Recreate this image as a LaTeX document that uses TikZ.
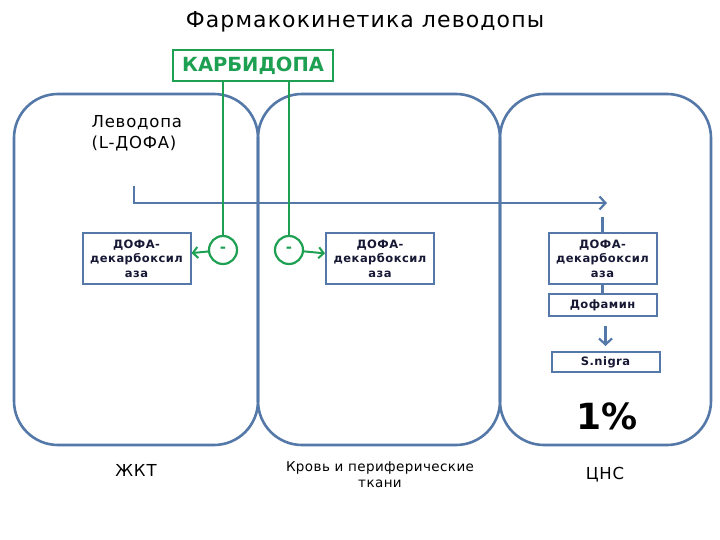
\documentclass[tikz,border=0pt]{standalone}
\usepackage{fontspec}
\setmainfont{DejaVu Sans}
\usetikzlibrary{arrows.meta,positioning}
\definecolor{zblue}{RGB}{84,120,168}
\definecolor{cgreen}{RGB}{30,160,82}
\definecolor{ink}{RGB}{22,24,52}

\begin{document}
\begin{tikzpicture}[x=1pt,y=-1pt, node distance=8pt,
    zone/.style={draw=zblue, line width=2.6pt, rounded corners=44pt, minimum height=351pt, inner sep=0pt},
    enz/.style={draw=zblue, line width=2pt, fill=white, text=ink, align=center, minimum width=108pt,
      font=\fontsize{11.5}{14.5}\selectfont\bfseries\addfontfeatures{LetterSpace=4}},
    inh/.style={circle, draw=cgreen, line width=2.2pt, minimum size=28pt, inner sep=0pt, text=cgreen,
      font=\fontsize{15}{15}\selectfont\bfseries},
    ar/.style={draw=zblue, line width=2.6pt, -{Straight Barb[length=6pt,width=13pt,line width=2.2pt]}},
    gar/.style={draw=cgreen, line width=2pt, -{Straight Barb[length=5pt,width=11pt,line width=2pt]}},
    lbl/.style={font=\fontsize{16.5}{21}\selectfont\addfontfeatures{LetterSpace=5}}]
  \useasboundingbox (0,0) rectangle (720,540);

  % compartments
  \node[zone, minimum width=244pt] (gut) at (136,269.5) {};
  \node[zone, minimum width=242pt] (blood) at (379,269.5) {};
  \node[zone, minimum width=211pt] (cns) at (605.5,269.5) {};

  \node[font=\fontsize{22}{22}\selectfont\addfontfeatures{LetterSpace=5}] (title) at (365,22) {Фармакокинетика леводопы};
  \node[draw=cgreen, line width=2.2pt, text=cgreen, minimum width=160pt, minimum height=31pt, inner sep=0pt,
    font=\fontsize{19.5}{19.5}\selectfont\bfseries] (carb) at (253,65.5) {КАРБИДОПА};
  \node[lbl, align=left, anchor=west] (levo) at (88,133) {Леводопа\\(L-ДОФА)};

  % enzyme boxes
  \node[enz, minimum height=51pt] (dd1) at (136.5,258.5) {ДОФА-\\декарбоксил\\аза};
  \node[enz, minimum height=51pt] (dd2) at (380,258.5) {ДОФА-\\декарбоксил\\аза};
  \node[enz, minimum height=51pt] (dd3) at (602.5,258.5) {ДОФА-\\декарбоксил\\аза};
  \node[enz, minimum height=22pt] (dopa) [below=of dd3] {Дофамин};
  \node[enz, minimum height=20pt] (snigra) [below=34pt of dopa, xshift=3pt] {S.nigra};

  \node[inh] (c1) at (223,250) {-};
  \node[inh] (c2) at (289,250) {-};

  \node[font=\fontsize{36}{36}\selectfont\bfseries] (pct) at (607,416) {1\%};
  \node[lbl] (gutl) at (136,470) {ЖКТ};
  \node[align=center, font=\fontsize{13.5}{16}\selectfont\addfontfeatures{LetterSpace=3}] (bloodl) at (380,475) {Кровь и периферические\\ткани};
  \node[lbl] (cnsl) at (605,475) {ЦНС};

  % levodopa transport
  \coordinate (ld) at (134,186);
  \coordinate (tip) at (607,203);
  \coordinate (dash) at (dd3.north |- 0,217);
  \draw[ar] (ld) |- (tip);
  \draw[draw=zblue, line width=2.6pt] (dash) -- (dd3.north);
  \draw[draw=zblue, line width=2.6pt] (dd3.south) -- (dopa.north);
  \draw[ar, shorten <=9pt, shorten >=5pt] (dopa.south -| snigra.north) -- (snigra.north);

  % carbidopa inhibition
  \draw[draw=cgreen, line width=2.2pt] (carb.south -| c1.north) -- (c1.north);
  \draw[draw=cgreen, line width=2.2pt] (carb.south -| c2.north) -- (c2.north);
  \draw[gar] (c1) -- (dd1);
  \draw[gar] (c2) -- (dd2);
\end{tikzpicture}
\end{document}
